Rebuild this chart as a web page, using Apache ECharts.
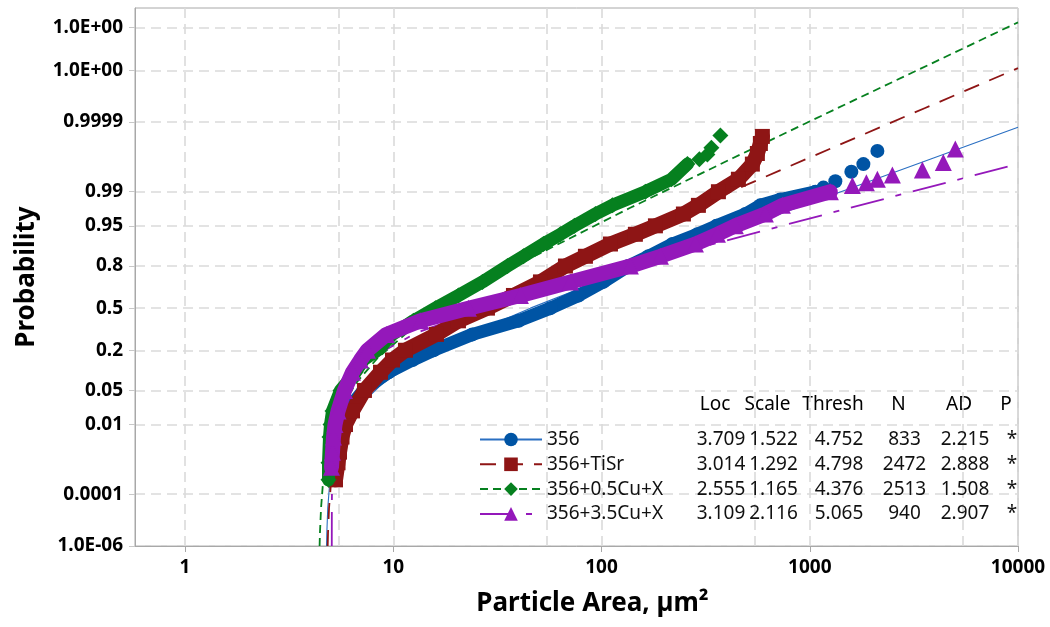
<!DOCTYPE html>
<html>
<head>
<meta charset="utf-8">
<script src="https://cdn.jsdelivr.net/npm/echarts@6/dist/echarts.min.js"></script>
<style>
html,body{margin:0;padding:0;background:#fff}
#chart{width:1050px;height:627px}
</style>
</head>
<body>
<div id="chart"></div>
<script>
// groups and the fit table shown in the legend
var groupNames = ['356', '356+TiSr', '356+0.5Cu+X', '356+3.5Cu+X'];
var groupColors = ['#0054a4', '#8e1515', '#06801f', '#9418ba'];
var groupSymbols = ['circle', 'rect', 'diamond', 'triangle'];
var locVals = ['3.709', '3.014', '2.555', '3.109'];
var scaleVals = ['1.522', '1.292', '1.165', '2.116'];
var threshVals = ['4.752', '4.798', '4.376', '5.065'];
var nVals = ['833', '2472', '2513', '940'];
var adVals = ['2.215', '2.888', '1.508', '2.907'];
var pVals = ['*', '*', '*', '*'];

// axis ticks
var probTicks = [0.000001, 0.0001, 0.01, 0.05, 0.2, 0.5, 0.8, 0.95, 0.99, 0.9999, 0.999999, 0.99999999];
var probLabels = ['1.0E-06', '0.0001', '0.01', '0.05', '0.2', '0.5', '0.8', '0.95', '0.99', '0.9999', '1.0E+00', '1.0E+00'];
var areaTicks = [1, 10, 100, 1000, 10000];
var areaGrid = [1, 5.45, 10, 54.5, 100, 545, 1000, 5450, 10000];

// fitted lines, [area, probability]
var blueFit = [[4.781,0.000001],[4.795,0.0000034],[4.845,0.0000317],[4.950,0.000233],[5.176,0.00135],[5.661,0.00621],[6.696,0.02275],[8.914,0.0668],[13.66,0.1587],[23.82,0.3085],[45.55,0.5],[92.1,0.6915],[191.7,0.8413],[861.9,0.97725],[3931,0.99865],[10000,0.99985]];
var redFit = [[4.842,0.000001],[4.859,0.0000034],[4.914,0.0000317],[5.019,0.000233],[5.220,0.00135],[5.604,0.00621],[6.335,0.02275],[7.731,0.0668],[10.39,0.1587],[15.47,0.3085],[25.17,0.5],[43.66,0.6915],[78.95,0.8413],[274.7,0.97725],[987.2,0.99865],[3582,0.9999683],[10000,0.99999919]];
var greenFit = [[4.427,0.000001],[4.444,0.0000034],[4.498,0.0000317],[4.594,0.000233],[4.767,0.00135],[5.075,0.00621],[5.628,0.02275],[6.618,0.0668],[8.391,0.1587],[11.57,0.3085],[17.25,0.5],[27.43,0.6915],[45.64,0.8413],[136.7,0.97725],[428.5,0.99865],[1364,0.9999683],[4363,0.99999971],[10000,0.9999999944]];
var purpleFit = [[5.066,0.000001],[5.0666,0.0000034],[5.0697,0.0000317],[5.0786,0.000233],[5.104,0.00135],[5.178,0.00621],[5.390,0.02275],[6.002,0.0668],[7.764,0.1587],[12.84,0.3085],[27.47,0.5],[69.6,0.6915],[191.0,0.8413],[1548,0.97725],[10000,0.99803]];

// observed points (dense part read as a band, sparse upper points separately)
var blueBand = [[5.02,0.00084],[5.164,0.002],[5.397,0.005],[5.641,0.01],[5.962,0.02],[7.193,0.05],[9.484,0.1],[12.37,0.15],[15.6,0.2],[24.0,0.3],[40.0,0.4],[56.9,0.5],[77.5,0.6],[102,0.7],[134.6,0.8],[168,0.85],[219,0.9],[288.7,0.93],[356,0.95],[491,0.97],[579,0.98],[722,0.985],[1064,0.99]];
var blueTail = [[1163,0.992],[1327,0.9944],[1584,0.9968],[1809,0.998],[2112,0.99916]];
var redBand = [[5.28,0.0003],[5.427,0.001],[5.517,0.002],[5.672,0.005],[5.896,0.01],[6.37,0.02],[7.27,0.05],[8.68,0.1],[9.913,0.15],[11.44,0.2],[16.12,0.3],[20.56,0.4],[28.33,0.5],[37.76,0.6],[50.9,0.7],[67.1,0.8],[83.7,0.85],[110.4,0.9],[145.4,0.93],[181.5,0.95],[247.3,0.97],[291.9,0.98],[364.2,0.99],[454.2,0.995],[530.2,0.998],[560.3,0.999],[579.2,0.9995],[592.1,0.9997]];
var redTail = [];
var greenBand = [[4.885,0.0003],[4.885,0.001],[4.94,0.005],[4.995,0.01],[5.107,0.02],[5.58,0.05],[6.58,0.1],[7.19,0.15],[8.40,0.2],[9.913,0.3],[12.5,0.4],[15.94,0.5],[20.56,0.6],[26.8,0.7],[35.35,0.8],[42.18,0.85],[52.6,0.9],[63.5,0.93],[74.1,0.95],[93.5,0.97],[112.8,0.98],[162.4,0.99],[216.6,0.995],[258.5,0.998]];
var greenTail = [[295.1,0.99853],[322.3,0.99893],[337,0.99932],[372.3,0.99972]];
var purpleBand = [[5.05,0.00074],[5.107,0.002],[5.164,0.005],[5.25,0.01],[5.43,0.02],[5.83,0.05],[6.37,0.1],[6.958,0.15],[7.52,0.2],[9.276,0.3],[13.51,0.4],[22.96,0.5],[40.8,0.6],[70.9,0.7],[137.6,0.8],[191.8,0.85],[282.4,0.9],[360.2,0.93],[439.4,0.95],[612.1,0.97],[738.5,0.98],[1256,0.99]];
var purpleTail = [[1602,0.9929],[1870,0.9939],[2112,0.995],[2493,0.9961],[3473,0.9971],[4379,0.9982],[5000,0.99926]];

var fits = [blueFit, redFit, greenFit, purpleFit];
var bands = [blueBand, redBand, greenBand, purpleBand];
var tails = [blueTail, redTail, greenTail, purpleTail];
var fitDash = ['solid', [16, 11], [8, 5], [34, 12, 6, 12]];
var fitWidth = [1.1, 1.8, 1.8, 1.8];
var bandWidth = [13, 15, 13, 15];
var markSize = [14, 15, 16, 17];

// probability -> normal score (Acklam), the y axis is the normal probability scale
function probit(p) {
  var a = [-3.969683028665376e+01, 2.209460984245205e+02, -2.759285104469687e+02, 1.383577518672690e+02, -3.066479806614716e+01, 2.506628277459239e+00];
  var b = [-5.447609879822406e+01, 1.615858368580409e+02, -1.556989798598866e+02, 6.680131188771972e+01, -1.328068155288572e+01];
  var c = [-7.784894002430293e-03, -3.223964580411365e-01, -2.400758277161838e+00, -2.549732539343734e+00, 4.374664141464968e+00, 2.938163982698783e+00];
  var d = [7.784695709041462e-03, 3.224671290700398e-01, 2.445134137142996e+00, 3.754408661907416e+00];
  var q, r;
  if (p < 0.02425) {
    q = Math.sqrt(-2 * Math.log(p));
    return (((((c[0]*q+c[1])*q+c[2])*q+c[3])*q+c[4])*q+c[5]) / ((((d[0]*q+d[1])*q+d[2])*q+d[3])*q+1);
  }
  if (p > 1 - 0.02425) {
    q = Math.sqrt(-2 * Math.log(1 - p));
    return -(((((c[0]*q+c[1])*q+c[2])*q+c[3])*q+c[4])*q+c[5]) / ((((d[0]*q+d[1])*q+d[2])*q+d[3])*q+1);
  }
  q = p - 0.5; r = q * q;
  return (((((a[0]*r+a[1])*r+a[2])*r+a[3])*r+a[4])*r+a[5])*q / (((((b[0]*r+b[1])*r+b[2])*r+b[3])*r+b[4])*r+1);
}
function toZ(pts) {
  return pts.map(function (d) { return [d[0], probit(d[1])]; });
}
var zTicks = probTicks.map(probit);

var colW = {n: 151, a: 46, b: 59, c: 72, d: 59, e: 62, f: 32};
var fontTxt = {fontFamily: 'Noto Sans', fontSize: 19, lineHeight: 20, color: '#111'};
function richStyles() {
  return {
    n: Object.assign({width: colW.n, align: 'left'}, fontTxt),
    a: Object.assign({width: colW.a, align: 'right'}, fontTxt),
    b: Object.assign({width: colW.b, align: 'right'}, fontTxt),
    c: Object.assign({width: colW.c, align: 'right'}, fontTxt),
    d: Object.assign({width: colW.d, align: 'right'}, fontTxt),
    e: Object.assign({width: colW.e, align: 'right'}, fontTxt),
    f: Object.assign({width: colW.f, align: 'center'}, fontTxt)
  };
}

var series = [];
groupNames.forEach(function (nm, i) {
  series.push({
    name: nm, type: 'line', data: toZ(fits[i]), symbol: groupSymbols[i], showSymbol: false,
    silent: true, z: 2,
    itemStyle: {color: groupColors[i]},
    lineStyle: {color: i === 0 ? '#2a6fc2' : groupColors[i], width: fitWidth[i], type: fitDash[i]}
  });
});
groupNames.forEach(function (nm, i) {
  series.push({
    name: nm + ' data', type: 'line', data: toZ(bands[i]), symbol: groupSymbols[i],
    symbolSize: markSize[i], showSymbol: true, silent: true, z: 3 + i,
    itemStyle: {color: groupColors[i]},
    lineStyle: {color: groupColors[i], width: bandWidth[i], cap: 'round', join: 'round'}
  });
  if (tails[i].length) {
    series.push({
      name: nm + ' data', type: 'scatter', data: toZ(tails[i]), symbol: groupSymbols[i],
      symbolSize: markSize[i], silent: true, z: 3 + i,
      itemStyle: {color: groupColors[i], opacity: 1}
    });
  }
});

var chart = echarts.init(document.getElementById('chart'));
chart.setOption({
  animation: false,
  backgroundColor: '#fff',
  grid: {left: 135, right: 32, top: 8, bottom: 81, show: true, borderColor: '#a8a8a8', borderWidth: 1, outerBoundsMode: 'none'},
  xAxis: [{
    type: 'log', logBase: 10, min: 0.575, max: 10000, position: 'bottom',
    axisLine: {show: true, onZero: false, lineStyle: {color: '#a8a8a8', width: 1}},
    axisTick: {show: true, customValues: areaTicks, length: 6, lineStyle: {color: '#a8a8a8'}},
    axisLabel: {
      customValues: areaTicks, color: '#000', fontFamily: 'Noto Sans', fontWeight: 'bold', fontSize: 19, margin: 12,
      formatter: function (v) { return String(Math.round(v)); }
    },
    splitLine: {show: false},
    name: 'Particle Area, µm²', nameLocation: 'middle', nameGap: 45,
    nameTextStyle: {color: '#000', fontFamily: 'Noto Sans', fontWeight: 'bold', fontSize: 26, padding: [0, 0, 0, 32]}
  }, {
    type: 'log', logBase: 10, min: 0.575, max: 10000, position: 'bottom',
    axisLine: {show: false, onZero: false},
    axisTick: {show: false, customValues: areaGrid},
    axisLabel: {show: false, customValues: areaGrid},
    splitLine: {show: true, lineStyle: {color: '#dadada', width: 1.6, type: [10, 6]}}
  }],
  yAxis: {
    type: 'value', min: probit(0.000001), max: probit(0.999999999),
    axisLine: {show: true, onZero: false, lineStyle: {color: '#a8a8a8', width: 1}},
    axisTick: {show: true, customValues: zTicks, length: 6, lineStyle: {color: '#c8c8c8'}},
    axisLabel: {
      customValues: zTicks, color: '#000', fontFamily: 'Noto Sans', fontWeight: 'bold', fontSize: 19, margin: 12,
      formatter: function (v) {
        var best = 0;
        for (var k = 1; k < zTicks.length; k++) {
          if (Math.abs(zTicks[k] - v) < Math.abs(zTicks[best] - v)) best = k;
        }
        return probLabels[best];
      }
    },
    splitLine: {show: true, lineStyle: {color: '#dadada', width: 1.6, type: [10, 6]}},
    name: 'Probability', nameLocation: 'middle', nameGap: 95, nameRotate: 90,
    nameTextStyle: {color: '#000', fontFamily: 'Noto Sans', fontWeight: 'bold', fontSize: 26}
  },
  legend: {
    data: groupNames, orient: 'vertical', left: 474, top: 425,
    itemWidth: 62, itemHeight: 17, itemGap: 5.8, selectedMode: false,
    textStyle: {rich: richStyles()},
    formatter: function (name) {
      var i = groupNames.indexOf(name);
      return '{n|' + name + '}{a|' + locVals[i] + '}{b|' + scaleVals[i] + '}{c|' + threshVals[i] +
        '}{d|' + nVals[i] + '}{e|' + adVals[i] + '}{f|' + pVals[i] + '}';
    }
  },
  graphic: [{
    type: 'text', left: 541, top: 395, silent: true,
    style: {
      text: '{n| }{a|Loc}{b|Scale}{c|Thresh}{d|N}{e|AD}{f|P}',
      rich: richStyles()
    }
  }],
  series: series
});
</script>
</body>
</html>
